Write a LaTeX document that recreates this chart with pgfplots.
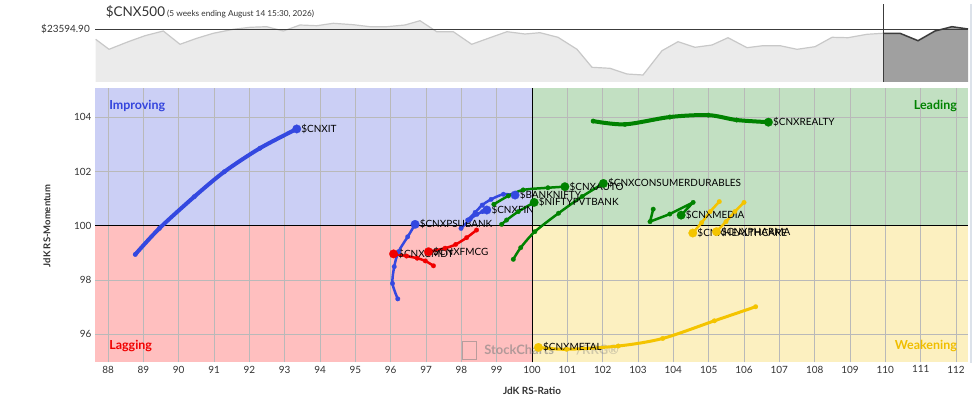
\documentclass[border=0pt]{standalone}
\usepackage{pgfplots}
\pgfplotsset{compat=1.18}
\usepackage{fontspec}
\setmainfont{Lato}
\definecolor{impc}{RGB}{203,207,245}
\definecolor{leadc}{RGB}{194,224,194}
\definecolor{lagc}{RGB}{255,191,191}
\definecolor{weakc}{RGB}{252,240,192}
\definecolor{gridc}{RGB}{185,185,185}
\definecolor{tickc}{RGB}{50,50,50}
\definecolor{sblue}{RGB}{52,72,224}
\definecolor{sred}{RGB}{240,0,0}
\definecolor{sgreen}{RGB}{0,130,0}
\definecolor{syellow}{RGB}{244,196,0}
\definecolor{tblue}{RGB}{51,68,221}
\definecolor{tgold}{RGB}{240,190,0}
\definecolor{stripfill}{RGB}{235,235,235}
\definecolor{stripline}{RGB}{200,200,200}
\definecolor{darkfill}{RGB}{160,160,160}
\definecolor{darkline}{RGB}{60,60,60}
\definecolor{edgec}{RGB}{220,226,234}
\newcommand\lbl{\fontsize{10}{12}\selectfont}
\pgfplotsset{trail/.style={line width=#1, mark=*, mark size=2.3bp, mark options={line width=0.2bp}},
  headmark/.style={only marks, mark=*, mark size=4.3bp, mark options={line width=0.2bp}}}
\begin{document}
\begin{tikzpicture}
\path[use as bounding box] (0,0) rectangle (980bp,400bp);
% ---------- top strip ----------
\begin{axis}[at={(95bp,318bp)}, anchor=south west, scale only axis,
  width=873bp, height=79bp, xmin=95, xmax=968, ymin=318, ymax=397, hide axis]
\addplot[fill=stripfill, draw=none] coordinates {(95.7,318) (95.7,360.7) (109,350.7) (128.3,358.3) (145,364.3) (163.3,369) (180,355.7) (196.7,361.7) (213.3,366.7) (233.3,370.7) (250,372.7) (266.7,373.3) (283.3,369) (300,375) (316.7,374.3) (333.3,376.7) (353.3,375.3) (370,373.3) (386.7,373.3) (405,375) (420,379.3) (436.7,368.3) (453.3,368.3) (471.7,355.7) (490,362.3) (507,368.3) (525,366) (540,367.3) (558,362.7) (577,350.7) (592,332.7) (610,331.7) (627,326) (643,325) (662,349.3) (678,358.3) (695,352.7) (712,355) (728,362.3) (747,352.3) (763,354.3) (780,354.3) (797,350.7) (815,353.3) (832,362.7) (848,362.3) (867,365.7) (883,366.7) (883,318)};
\addplot[stripline, line width=1.2bp] coordinates {(95.7,360.7) (109,350.7) (128.3,358.3) (145,364.3) (163.3,369) (180,355.7) (196.7,361.7) (213.3,366.7) (233.3,370.7) (250,372.7) (266.7,373.3) (283.3,369) (300,375) (316.7,374.3) (333.3,376.7) (353.3,375.3) (370,373.3) (386.7,373.3) (405,375) (420,379.3) (436.7,368.3) (453.3,368.3) (471.7,355.7) (490,362.3) (507,368.3) (525,366) (540,367.3) (558,362.7) (577,350.7) (592,332.7) (610,331.7) (627,326) (643,325) (662,349.3) (678,358.3) (695,352.7) (712,355) (728,362.3) (747,352.3) (763,354.3) (780,354.3) (797,350.7) (815,353.3) (832,362.7) (848,362.3) (867,365.7) (883,366.7)};
\addplot[fill=darkfill, draw=none] coordinates {(883,318) (883,366.7) (900,366.7) (918,359.3) (935,369) (952,373.3) (968,371) (968,318)};
\addplot[darkline, line width=1.5bp] coordinates {(883,366.7) (900,366.7) (918,359.3) (935,369) (952,373.3) (968,371)};
\addplot[darkline, line width=0.9bp] coordinates {(95,370.7) (968,370.7)};
\addplot[darkline, line width=0.9bp] coordinates {(883,318) (883,396)};
\end{axis}
% ---------- main RRG ----------
\begin{axis}[at={(95bp,37.7bp)}, anchor=south west, scale only axis,
  width=873bp, height=274bp,
  xmin=87.63, xmax=112.34, ymin=94.96, ymax=105.07,
  xtick={88,89,...,112}, ytick={96,98,100,102,104},
  axis line style={draw=none}, major tick length=0pt, tick style={draw=none},
  tick label style={font=\lbl, text=tickc},
  /pgf/number format/assume math mode=true,
  every axis plot/.append style={line cap=round, line join=round}]
\fill[impc] (axis cs:87.63,100) rectangle (axis cs:100,105.07);
\fill[leadc] (axis cs:100,100) rectangle (axis cs:112.34,105.07);
\fill[lagc] (axis cs:87.63,94.96) rectangle (axis cs:100,100);
\fill[weakc] (axis cs:100,94.96) rectangle (axis cs:112.34,100);
\pgfplotsinvokeforeach{88,89,...,112}{\draw[gridc, line width=0.8bp] (axis cs:#1,94.96) -- (axis cs:#1,105.07);}
\pgfplotsinvokeforeach{96,98,102,104}{\draw[gridc, line width=0.8bp] (axis cs:87.63,#1) -- (axis cs:112.34,#1);}
\draw[black, line width=1bp] (axis cs:100,94.96) -- (axis cs:100,105.07);
\draw[black, line width=1bp] (axis cs:87.63,100) -- (axis cs:112.34,100);
% watermark
\node[anchor=west, font=\bfseries\fontsize{13}{15}\selectfont, text=gray, opacity=0.6] at (axis cs:98.55,95.42) {StockCharts};
\node[anchor=west, font=\bfseries\fontsize{13}{15}\selectfont, text=gray, opacity=0.35] at (axis cs:101.15,95.42) {/RRG®};
\draw[gray, opacity=0.55, line width=0.8bp] (axis cs:98.03,95.08) rectangle (axis cs:98.42,95.72);
% quadrant names
\node[anchor=west, inner sep=0, font=\bfseries\fontsize{12.5}{14}\selectfont, text=tblue] at (axis cs:88.03,104.42) {Improving};
\node[anchor=east, inner sep=0, font=\bfseries\fontsize{12.5}{14}\selectfont, text=sgreen] at (axis cs:112.03,104.42) {Leading};
\node[anchor=west, inner sep=0, font=\bfseries\fontsize{12.5}{14}\selectfont, text=sred] at (axis cs:88.03,95.57) {Lagging};
\node[anchor=east, inner sep=0, font=\bfseries\fontsize{12.5}{14}\selectfont, text=tgold] at (axis cs:112.03,95.57) {Weakening};
% ---- series ----
\addplot[sblue, trail=4bp, smooth] coordinates {(88.77,98.94) (89.45,99.90) (90.44,101.07) (91.29,101.99) (92.30,102.86) (93.34,103.57)};
\addplot[sblue, headmark] coordinates {(93.34,103.57)};
\addplot[sgreen, trail=4bp, smooth] coordinates {(101.73,103.86) (102.63,103.74) (103.90,104.01) (104.99,104.08) (105.79,103.90) (106.69,103.82)};
\addplot[sgreen, headmark] coordinates {(106.69,103.82)};
\addplot[sblue, trail=2.5bp, smooth] coordinates {(98.18,100.21) (98.39,100.49) (98.59,100.76) (98.84,100.97) (99.19,101.16) (99.52,101.13)};
\addplot[sblue, headmark] coordinates {(99.52,101.13)};
\addplot[sblue, trail=2.5bp, smooth] coordinates {(97.99,99.90) (98.25,100.24) (98.44,100.42) (98.60,100.52) (98.72,100.58)};
\addplot[sblue, headmark] coordinates {(98.72,100.58)};
\addplot[sblue, trail=2.5bp, smooth] coordinates {(96.20,97.30) (96.05,97.87) (96.10,98.49) (96.22,99.04) (96.48,99.59) (96.69,100.05)};
\addplot[sblue, headmark] coordinates {(96.69,100.05)};
\addplot[sred, trail=2.5bp, smooth] coordinates {(97.21,98.52) (96.98,98.70) (96.75,98.80) (96.45,98.88) (96.08,98.96)};
\addplot[sred, headmark] coordinates {(96.08,98.96)};
\addplot[sred, trail=2.5bp, smooth] coordinates {(98.43,99.84) (98.15,99.56) (97.84,99.31) (97.54,99.17) (97.07,99.04)};
\addplot[sred, headmark] coordinates {(97.07,99.04)};
\addplot[sgreen, trail=2.5bp, smooth] coordinates {(99.14,100.05) (99.28,100.21) (99.61,100.52) (100.06,100.86)};
\addplot[sgreen, headmark] coordinates {(100.06,100.86)};
\addplot[sgreen, trail=2.5bp, smooth] coordinates {(98.92,100.79) (99.33,101.10) (99.75,101.32) (100.45,101.40) (100.93,101.44)};
\addplot[sgreen, headmark] coordinates {(100.93,101.44)};
\addplot[sgreen, trail=2.5bp, smooth] coordinates {(99.47,98.76) (99.68,99.19) (100.08,99.78) (100.75,100.46) (101.42,101.08) (102.02,101.56)};
\addplot[sgreen, headmark] coordinates {(102.02,101.56)};
\addplot[sgreen, trail=2.5bp] coordinates {(103.43,100.61) (103.34,100.15) (103.90,100.43) (104.56,100.86) (104.22,100.39)};
\addplot[sgreen, headmark] coordinates {(104.22,100.39)};
\addplot[syellow, trail=2.5bp] coordinates {(105.30,100.89) (105.04,100.52) (104.80,100.11) (104.55,99.73)};
\addplot[syellow, headmark] coordinates {(104.55,99.73)};
\addplot[syellow, trail=2.5bp] coordinates {(106.00,100.86) (105.74,100.52) (105.49,100.15) (105.22,99.78)};
\addplot[syellow, headmark] coordinates {(105.22,99.78)};
\addplot[syellow, trail=3bp, smooth] coordinates {(106.33,97.01) (105.16,96.49) (103.70,95.84) (102.44,95.56) (100.98,95.44) (100.18,95.51)};
\addplot[syellow, headmark] coordinates {(100.18,95.51)};
% labels
\begin{scope}[every node/.style={anchor=west, font=\lbl, text=black, inner sep=1.5bp, xshift=3bp}]
\node at (axis cs:93.34,103.57) {\$CNXIT};
\node at (axis cs:106.69,103.82) {\$CNXREALTY};
\node at (axis cs:99.52,101.13) {\$BANKNIFTY};
\node at (axis cs:98.72,100.58) {\$CNXFIN};
\node at (axis cs:96.69,100.05) {\$CNXPSUBANK};
\node at (axis cs:96.08,98.96) {\$CNXCMDT};
\node at (axis cs:97.07,99.04) {\$CNXFMCG};
\node at (axis cs:100.06,100.86) {\$NIFTYPVTBANK};
\node at (axis cs:100.93,101.44) {\$CNXAUTO};
\node at (axis cs:102.02,101.56) {\$CNXCONSUMERDURABLES};
\node at (axis cs:104.22,100.39) {\$CNXMEDIA};
\node at (axis cs:104.55,99.73) {\$CNXHEALTHCARE};
\node at (axis cs:105.22,99.78) {\$CNXPHARMA};
\node at (axis cs:100.18,95.51) {\$CNXMETAL};
\end{scope}
\end{axis}
% ---------- texts outside ----------
\node[anchor=base west, inner sep=0, font=\fontsize{13.5}{15}\selectfont, text=tickc] at (105.7bp,383.3bp) {\$CNX500};
\node[anchor=base west, inner sep=0, font=\fontsize{8.3}{10}\selectfont, text=tickc] at (167bp,383.3bp) {(5 weeks ending August 14 15:30, 2026)};
\node[anchor=east, inner sep=0, font=\lbl, text=tickc] at (90bp,370.7bp) {\$23594.90};
\node[font=\bfseries\lbl, text=tickc] at (532bp,9bp) {JdK RS-Ratio};
\node[rotate=90, font=\bfseries\fontsize{9.5}{11}\selectfont, text=tickc] at (47bp,174bp) {JdK RS-Momentum};
\draw[edgec, line width=1.2bp] (971bp,396bp) -- (971bp,37bp);
\end{tikzpicture}
\end{document}
